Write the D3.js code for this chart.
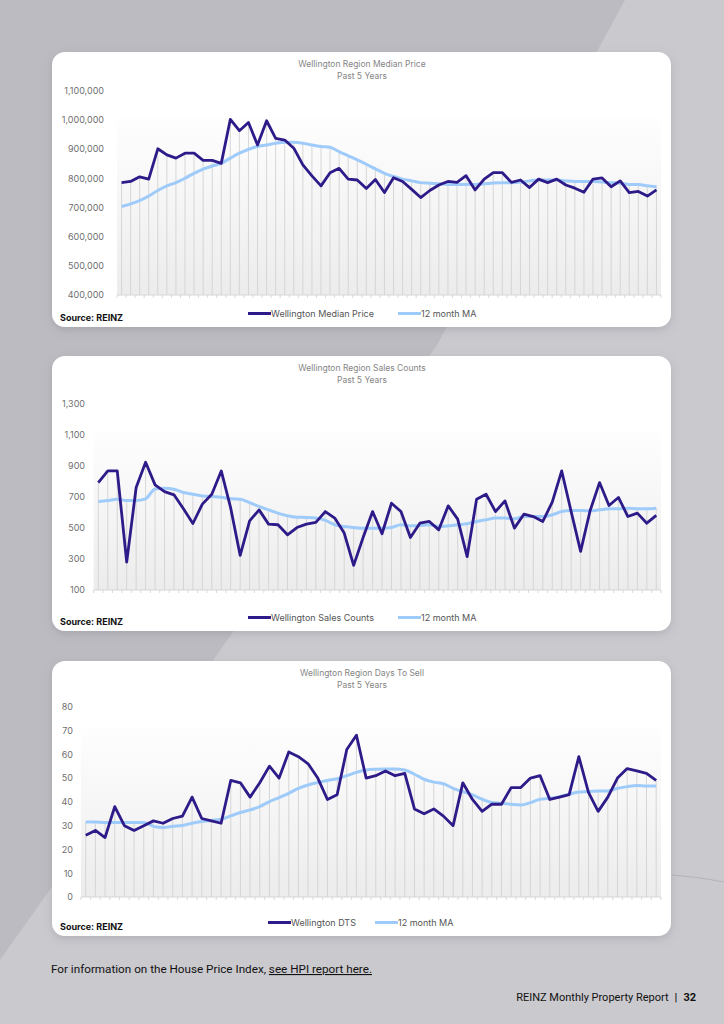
<!DOCTYPE html>
<html>
<head>
<meta charset="utf-8">
<script src="https://cdn.jsdelivr.net/npm/d3@7"></script>
<style>
body { margin: 0; background: #bcbbc1; }
svg { display: block; font-family: Inter, "DejaVu Sans", sans-serif; }
</style>
</head>
<body>
<svg id="page" width="724" height="1024"></svg>
<script>
// 60 monthly points, past 5 years
var months = d3.range(60);

var priceTicks = [400000, 500000, 600000, 700000, 800000, 900000, 1000000, 1100000];
var priceMedian = [785000, 789000, 805000, 797000, 901000, 880000, 869000, 886000, 886000, 861000,
    861000, 851000, 1002000, 963000, 991000, 914000, 997000, 937000, 931000, 903000,
    846000, 808000, 774000, 819000, 834000, 797000, 794000, 765000, 796000, 751000,
    802000, 789000, 762000, 734000, 758000, 777000, 789000, 786000, 809000, 760000,
    797000, 819000, 819000, 786000, 794000, 768000, 797000, 785000, 797000, 777000,
    766000, 752000, 797000, 801000, 771000, 791000, 751000, 755000, 739000, 760000];
var priceMA = [703000, 712000, 723000, 739000, 758000, 774000, 785000, 800000, 817000, 831000,
    842000, 851000, 869000, 886000, 899000, 909000, 914000, 920000, 923000, 923000,
    920000, 914000, 909000, 906000, 891000, 877000, 863000, 848000, 832000, 817000,
    806000, 797000, 791000, 785000, 783000, 781000, 779000, 779000, 779000, 779000,
    781000, 784000, 785000, 785000, 787000, 791000, 794000, 794000, 794000, 791000,
    789000, 789000, 789000, 787000, 785000, 783000, 779000, 779000, 774000, 771000];

var salesTicks = [100, 300, 500, 700, 900, 1100, 1300];
var salesCounts = [793, 868, 868, 280, 761, 924, 778, 735, 714, 624,
    529, 654, 718, 868, 628, 323, 546, 617, 525, 521,
    456, 503, 525, 536, 606, 564, 467, 259, 439, 606,
    463, 660, 606, 439, 531, 542, 488, 643, 557, 315,
    686, 718, 606, 675, 499, 589, 574, 542, 667, 868,
    606, 349, 611, 793, 645, 697, 574, 596, 531, 581];
var salesMA = [671, 677, 686, 677, 677, 688, 752, 757, 750, 729,
    718, 707, 703, 699, 688, 686, 664, 639, 617, 596,
    579, 570, 568, 564, 549, 521, 510, 503, 499, 499,
    499, 503, 521, 514, 516, 521, 510, 514, 521, 527,
    542, 553, 564, 564, 559, 574, 574, 574, 585, 606,
    613, 613, 611, 617, 624, 624, 628, 624, 624, 628];

var dtsTicks = [0, 10, 20, 30, 40, 50, 60, 70, 80];
var dtsDays = [26, 28, 25, 38, 30, 28, 30, 32, 31, 33,
    34, 42, 33, 32, 31, 49, 48, 42, 48, 55,
    50, 61, 59, 56, 50, 41, 43, 62, 68, 50,
    51, 53, 51, 52, 37, 35, 37, 34, 30, 48,
    41, 36, 39, 39, 46, 46, 50, 51, 41, 42,
    43, 59, 44, 36, 42, 50, 54, 53, 52, 49];
var dtsMA = [31.5, 31.5, 31.3, 31.3, 31.3, 31.3, 31.3, 29.7, 29.2, 29.7,
    30.1, 31, 31.7, 32.2, 32.7, 34.1, 35.5, 36.6, 38, 40.1,
    41.8, 43.6, 45.7, 47.1, 48.1, 49, 49.7, 51, 52.4, 53.4,
    53.7, 53.8, 53.8, 53.4, 51.6, 49.5, 48.3, 47.6, 45.7, 44.3,
    42.9, 41.1, 39.7, 39.4, 39, 38.7, 39.7, 41.1, 41.5, 42.2,
    43.2, 44.1, 44.3, 44.6, 44.6, 45.7, 46.4, 46.9, 46.7, 46.7];

var darkColor = "#2e1a88",
    lightColor = "#9ecbf9";

var svg = d3.select("#page");
var defs = svg.append("defs");

var shadow = defs.append("filter").attr("id", "shadow")
    .attr("x", "-5%").attr("y", "-5%").attr("width", "110%").attr("height", "115%");
shadow.append("feDropShadow")
    .attr("dx", 0).attr("dy", 3).attr("stdDeviation", 4)
    .attr("flood-color", "#6d6b75").attr("flood-opacity", 0.25);

var plotFill = defs.append("linearGradient").attr("id", "plotFill")
    .attr("x1", 0).attr("y1", 0).attr("x2", 0).attr("y2", 1);
plotFill.append("stop").attr("offset", "0%").attr("stop-color", "#fefefe");
plotFill.append("stop").attr("offset", "100%").attr("stop-color", "#ececec");

// page background
svg.append("rect").attr("width", 724).attr("height", 1024).attr("fill", "#bcbbc1");
svg.append("path")
    .attr("d", "M625,0 L724,0 L724,1024 L0,1024 L0,960 L437,345 Z")
    .attr("fill", "#cac9ce");
svg.append("path")
    .attr("d", "M672,875 Q700,877 724,882")
    .attr("fill", "none").attr("stroke", "#b4b3b9").attr("stroke-width", 1);

var charts = [
    {
        top: 52, title: "Wellington Region Median Price",
        ticks: priceTicks, values: priceMedian, ma: priceMA,
        left: 117, bottom: 295, axisTop: 90.7, labelX: 104,
        name: "Wellington Median Price",
        leg1: 248, leg2: 398
    },
    {
        top: 356, title: "Wellington Region Sales Counts",
        ticks: salesTicks, values: salesCounts, ma: salesMA,
        left: 93.6, bottom: 590, axisTop: 404, labelX: 85,
        name: "Wellington Sales Counts",
        leg1: 248, leg2: 398
    },
    {
        top: 661, title: "Wellington Region Days To Sell",
        ticks: dtsTicks, values: dtsDays, ma: dtsMA,
        left: 80.9, bottom: 897, axisTop: 706.7, labelX: 73,
        name: "Wellington DTS",
        leg1: 268, leg2: 375
    }
];

charts.forEach(function(c) { drawChart(c); });

function drawChart(c) {
    var g = svg.append("g");
    g.append("rect")
        .attr("x", 52).attr("y", c.top)
        .attr("width", 619).attr("height", 275)
        .attr("rx", 13)
        .attr("fill", "#fff")
        .attr("filter", "url(#shadow)");

    var x = d3.scaleBand().domain(months).range([c.left, 661]);
    var y = d3.scaleLinear()
        .domain([c.ticks[0], c.ticks[c.ticks.length - 1]])
        .range([c.bottom, c.axisTop]);
    var cx = function(i) { return x(i) + x.bandwidth() / 2; };

    // title
    var title = g.append("text")
        .attr("x", 362).attr("text-anchor", "middle")
        .attr("fill", "#858585").style("font-size", "8.5px");
    title.append("tspan").attr("x", 362).attr("y", c.top + 15).text(c.title);
    title.append("tspan").attr("x", 362).attr("y", c.top + 27).text("Past 5 Years");

    // shaded plot area, starts just above the second highest tick
    var shadeTop = y(c.ticks[c.ticks.length - 2]) - 3;
    g.append("rect")
        .attr("x", c.left).attr("y", shadeTop)
        .attr("width", 661 - c.left).attr("height", c.bottom - shadeTop)
        .attr("fill", "url(#plotFill)");

    // y labels
    var yAxis = d3.axisLeft(y).tickValues(c.ticks).tickSize(0).tickPadding(0)
        .tickFormat(d3.format(","));
    var ya = g.append("g").attr("transform", "translate(" + c.labelX + ",0)").call(yAxis);
    ya.select(".domain").remove();
    ya.selectAll("text")
        .attr("fill", "#6f6f6f")
        .style("font-size", "9px")
        .style("font-family", "Inter, sans-serif");

    // drop lines
    g.append("g").selectAll("line")
        .data(months)
        .join("line")
        .attr("x1", cx).attr("x2", cx)
        .attr("y1", function(i) { return y(Math.max(c.values[i], c.ma[i])); })
        .attr("y2", c.bottom)
        .attr("stroke", "#d3d3d3")
        .attr("stroke-width", 0.9);

    // x axis line with tick marks between categories
    g.append("line")
        .attr("x1", c.left).attr("x2", 661)
        .attr("y1", c.bottom).attr("y2", c.bottom)
        .attr("stroke", "#d6d6d6").attr("stroke-width", 1);
    g.append("g").selectAll("line")
        .data(d3.range(61))
        .join("line")
        .attr("x1", function(i) { return c.left + i * x.step(); })
        .attr("x2", function(i) { return c.left + i * x.step(); })
        .attr("y1", c.bottom).attr("y2", c.bottom + 3)
        .attr("stroke", "#d0d0d0").attr("stroke-width", 0.8);

    var maLine = d3.line()
        .x(function(d, i) { return cx(i); })
        .y(function(d) { return y(d); })
        .curve(d3.curveMonotoneX);
    var valLine = d3.line()
        .x(function(d, i) { return cx(i); })
        .y(function(d) { return y(d); });

    g.append("path").datum(c.ma)
        .attr("d", maLine)
        .attr("fill", "none")
        .attr("stroke", lightColor)
        .attr("stroke-width", 3)
        .attr("stroke-linejoin", "round");
    g.append("path").datum(c.values)
        .attr("d", valLine)
        .attr("fill", "none")
        .attr("stroke", darkColor)
        .attr("stroke-width", 2.8)
        .attr("stroke-linejoin", "round");

    // source
    var legY = c.top + 261.5;
    g.append("text")
        .attr("x", 60).attr("y", c.top + 269)
        .attr("fill", "#111")
        .style("font-size", "9px").style("font-weight", 700)
        .text("Source: REINZ");

    // legend
    g.append("line")
        .attr("x1", c.leg1).attr("x2", c.leg1 + 23)
        .attr("y1", legY).attr("y2", legY)
        .attr("stroke", darkColor).attr("stroke-width", 3);
    g.append("text")
        .attr("x", c.leg1 + 23).attr("y", legY + 3.2)
        .attr("fill", "#555").style("font-size", "9px")
        .text(c.name);
    g.append("line")
        .attr("x1", c.leg2).attr("x2", c.leg2 + 23)
        .attr("y1", legY).attr("y2", legY)
        .attr("stroke", lightColor).attr("stroke-width", 3);
    g.append("text")
        .attr("x", c.leg2 + 23).attr("y", legY + 3.2)
        .attr("fill", "#555").style("font-size", "9px")
        .text("12 month MA");
}

// footer
var note = svg.append("text")
    .attr("x", 51).attr("y", 973)
    .attr("fill", "#111")
    .style("font-family", "Roboto, sans-serif").style("font-size", "11px")
    .attr("textLength", 321).attr("lengthAdjust", "spacingAndGlyphs");
note.append("tspan").text("For information on the House Price Index, ");
note.append("tspan").style("text-decoration", "underline").text("see HPI report here.");

var pageNo = svg.append("text")
    .attr("x", 696).attr("y", 1001).attr("text-anchor", "end")
    .attr("fill", "#111")
    .style("font-family", "Roboto, sans-serif").style("font-size", "11px");
pageNo.append("tspan").text("REINZ Monthly Property Report");
pageNo.append("tspan").attr("dx", 6).style("font-weight", 700).text("|");
pageNo.append("tspan").attr("dx", 6).style("font-weight", 700).text("32");
</script>
</body>
</html>
